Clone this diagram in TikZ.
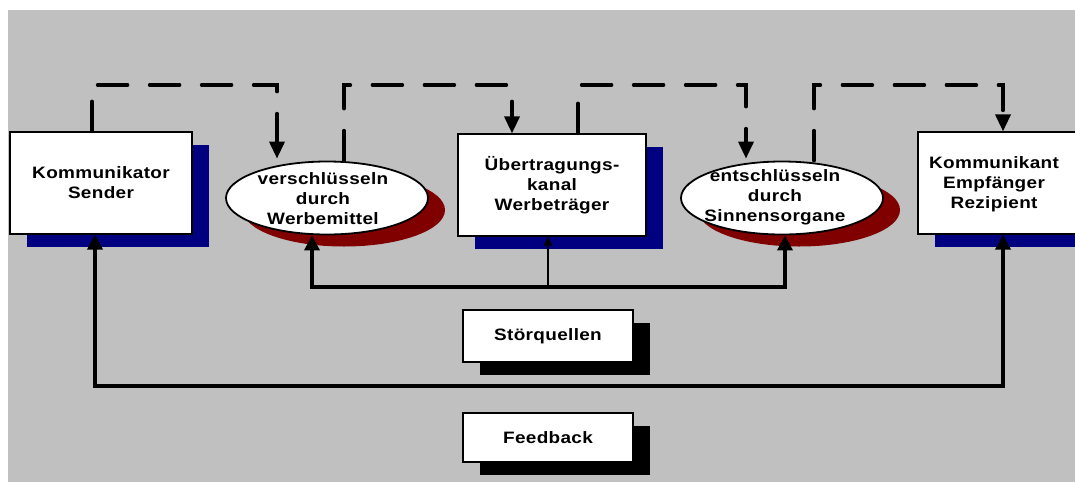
\documentclass[tikz,border=0pt]{standalone}
\usepackage{fontspec}
\newfontfamily\labfont{Liberation Sans}[FakeStretch=1.15,LetterSpace=2.0]
\usetikzlibrary{arrows.meta,shadows,shapes.geometric}
\definecolor{bggray}{HTML}{C0C0C0}
\definecolor{navyshadow}{HTML}{000080}
\definecolor{maroonshadow}{HTML}{800000}
\tikzset{
  lab/.style={font=\labfont\bfseries\fontsize{16.5}{20}\selectfont, align=center, text=black},
  mainbox/.style={draw=black, line width=1.2pt, fill=white, rectangle, inner sep=0pt,
    general shadow={fill=navyshadow, shadow xshift=17pt, shadow yshift=-13pt}},
  smallbox/.style={draw=black, line width=1.2pt, fill=white, rectangle, inner sep=0pt,
    minimum width=170pt, general shadow={fill=black, shadow xshift=17pt, shadow yshift=-13pt}},
  oval/.style={draw=black, line width=1.8pt, fill=white, ellipse, inner sep=0pt,
    minimum width=202pt, minimum height=73pt,
    general shadow={fill=maroonshadow, shadow xshift=17pt, shadow yshift=-12pt}},
  dashflow/.style={line width=3.5pt, dash pattern=on 30pt off 22pt, line cap=round,
    -{Triangle[length=17pt,width=15pt]}},
  solidflow/.style={line width=3.5pt, {Triangle[length=15pt,width=15pt]}-{Triangle[length=15pt,width=15pt]}},
  thinflow/.style={line width=1.5pt, -{Triangle[length=9pt,width=8pt]}},
}
\begin{document}
\begin{tikzpicture}[x=1pt,y=-1pt]
\useasboundingbox (0,0) rectangle (1075,482);
\clip (0,0) rectangle (1075,482);
\fill[bggray] (8,10) rectangle (1075,482);
% boxes
\node[mainbox, minimum width=182pt, minimum height=102pt, lab] (b1) at (101,183) {Kommunikator\\Sender};
\node[mainbox, minimum width=188pt, minimum height=102pt, lab] (b2) at (552,185) {Übertragungs-\\kanal\\Werbeträger};
\node[mainbox, minimum width=182pt, minimum height=102pt] (b3) at (1009,183) {};
\node[lab] (b3t) at (994,184) {Kommunikant\\Empfänger\\Rezipient};
% ovals
\node[oval] (e1) at (327,198) {};
\node[lab] (e1t) at (323,199) {verschlüsseln\\durch\\Werbemittel};
\node[oval] (e2) at (782,198) {};
\node[lab] (e2t) at (775,197) {entschlüsseln\\durch\\Sinnensorgane};
% small boxes
\node[smallbox, minimum height=52pt, lab] (sq) at (548,336) {Störquellen};
\node[smallbox, minimum height=49pt, lab] (fb) at (548,437.5) {Feedback};
% helper coordinates
\coordinate (dtop) at (0,85);
\coordinate (stor) at (548,287);
\coordinate (fbline) at (0,386);
% dashed flows
\draw[dashflow] ([xshift=-9pt]b1.north) -- ([xshift=-9pt]b1.north |- dtop) -| ([xshift=-50pt,yshift=2pt]e1.north);
\draw[dashflow] ([xshift=17pt]e1.north) -- ([xshift=17pt]e1.north |- dtop) -| ([xshift=-40pt]b2.north);
\draw[dashflow] ([xshift=26pt]b2.north) -- ([xshift=26pt]b2.north |- dtop) -| ([xshift=-36pt,yshift=2pt]e2.north);
\draw[dashflow] ([xshift=32pt]e2.north) -- ([xshift=32pt]e2.north |- dtop) -| ([xshift=-6pt]b3.north);
% noise
\draw[solidflow] ([xshift=-15pt]e1.south) |- (stor) -| ([xshift=3pt]e2.south);
\draw[thinflow] (stor) -- (stor |- b2.south);
% feedback
\draw[solidflow] ([xshift=-6pt]b1.south) -- ([xshift=-6pt]b1.south |- fbline) -| ([xshift=-6pt]b3.south);
\end{tikzpicture}
\end{document}
